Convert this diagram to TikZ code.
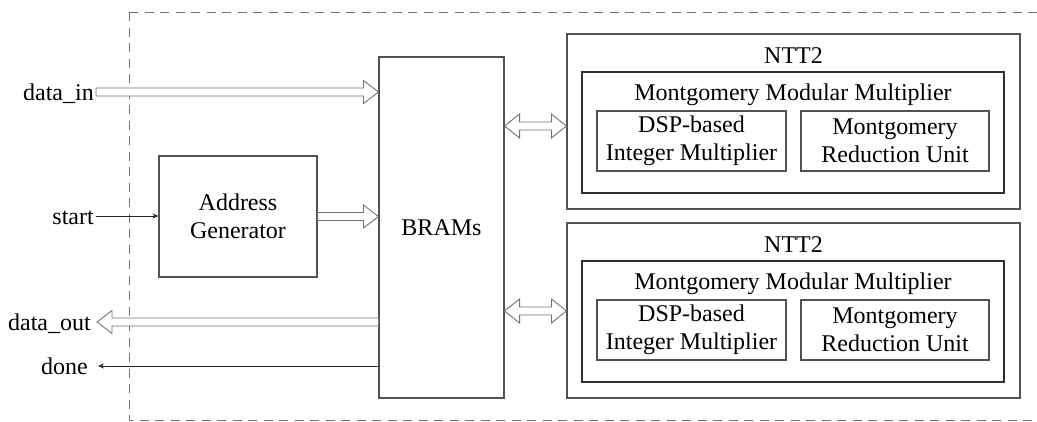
\documentclass[tikz,border=0pt]{standalone}
\usepackage{fontspec}
\setmainfont{Liberation Serif}
\usetikzlibrary{arrows.meta,calc}

\tikzset{
  txt/.style={font=\fontsize{24}{28}\selectfont, text=black},
  blk/.style={txt, draw=black!68, line width=1.1pt, inner sep=0pt, align=center},
  inner/.style={blk, draw=black!82},
  lbl/.style={txt, anchor=east, inner xsep=2pt, inner ysep=0pt, text height=16pt, text depth=0pt},
  title/.style={txt, anchor=base, inner sep=0pt},
  bus/.style={draw=black!55, fill=white, line width=0.9pt, line join=miter},
  sig/.style={draw=black!85, line width=0.9pt, -{Stealth[length=6pt,width=5pt]}},
  frame/.style={draw=black!55, line width=1pt, dash pattern=on 9pt off 6.5pt}
}

% single-headed hollow bus arrow, tail #1, tip #2 (horizontal)
\newcommand\busarrow[2]{%
  \path[bus] let \p1=(#1), \p2=(#2), \n1={ifthenelse(\x2>\x1,1,-1)} in
    ({\x1},{\y1+4pt}) -- ({\x2-\n1*15pt},{\y1+4pt}) -- ({\x2-\n1*15pt},{\y1+11.5pt})
    -- ({\x2},{\y1}) -- ({\x2-\n1*15pt},{\y1-11.5pt}) -- ({\x2-\n1*15pt},{\y1-4pt})
    -- ({\x1},{\y1-4pt}) -- cycle;}

% double-headed hollow bus arrow from #1 (left) to #2 (right)
\newcommand\biarrow[2]{%
  \path[bus] let \p1=(#1), \p2=(#2) in
    ({\x1},{\y1}) -- ({\x1+15pt},{\y1+12pt}) -- ({\x1+15pt},{\y1+4pt})
    -- ({\x2-15pt},{\y1+4pt}) -- ({\x2-15pt},{\y1+12pt}) -- ({\x2},{\y1})
    -- ({\x2-15pt},{\y1-12pt}) -- ({\x2-15pt},{\y1-4pt}) -- ({\x1+15pt},{\y1-4pt})
    -- ({\x1+15pt},{\y1-12pt}) -- cycle;}

\begin{document}
\begin{tikzpicture}[x=1pt, y=-1pt]
\useasboundingbox (0,0) rectangle (1037,421);

% accelerator boundary
\draw[frame] (129,12) -- (1040,12);
\draw[frame] (129,12) -- (129,420) -- (1040,420);

% main blocks
\node[blk, minimum width=125pt, minimum height=341pt] (brams) at (441.5,227.5) {BRAMs};
\node[blk, minimum width=158pt, minimum height=121pt] (agen) at (238,216.5) {Address\\Generator};

% two NTT2 cores
\foreach \i/\dy/\ay in {1/0/126, 2/189/311} {
  \node[blk, minimum width=453pt, minimum height=175pt] (ntt\i) at (793.5,{121.5+\dy}) {};
  \node[title] (ntt\i t) at (793.5,{63+\dy}) {NTT2};
  \node[inner, minimum width=422pt, minimum height=121pt] (mmm\i) at (793,{132.5+\dy}) {};
  \node[title] (mmm\i t) at (793,{100+\dy}) {Montgomery Modular Multiplier};
  \node[blk, minimum width=189pt, minimum height=60pt] (dsp\i) at (691.5,{141+\dy}) {DSP-based\\Integer Multiplier};
  \node[blk, minimum width=188pt, minimum height=60pt] (mru\i) at (895,{141+\dy}) {Montgomery\\Reduction Unit};
  \coordinate (port\i) at ($(ntt\i.west)+(0,{\ay-121.5-\dy})$);
  \biarrow{brams.east |- port\i}{port\i}
}

% external ports
\node[lbl] (din) at (96,92) {data\_in};
\node[lbl] (st) at (96,216) {start};
\node[lbl] (dout) at (93,322) {data\_out};
\node[lbl] (dn) at (90,366) {done};

\busarrow{din.east}{din.east -| brams.west}
\draw[sig] (st.east) -- (st.east -| agen.west);
\busarrow{agen.east}{agen.east -| brams.west}
\busarrow{dout.east -| brams.west}{[xshift=4pt]dout.east}
\draw[sig] (dn.east -| brams.west) -- ([xshift=8pt]dn.east);
\end{tikzpicture}
\end{document}
